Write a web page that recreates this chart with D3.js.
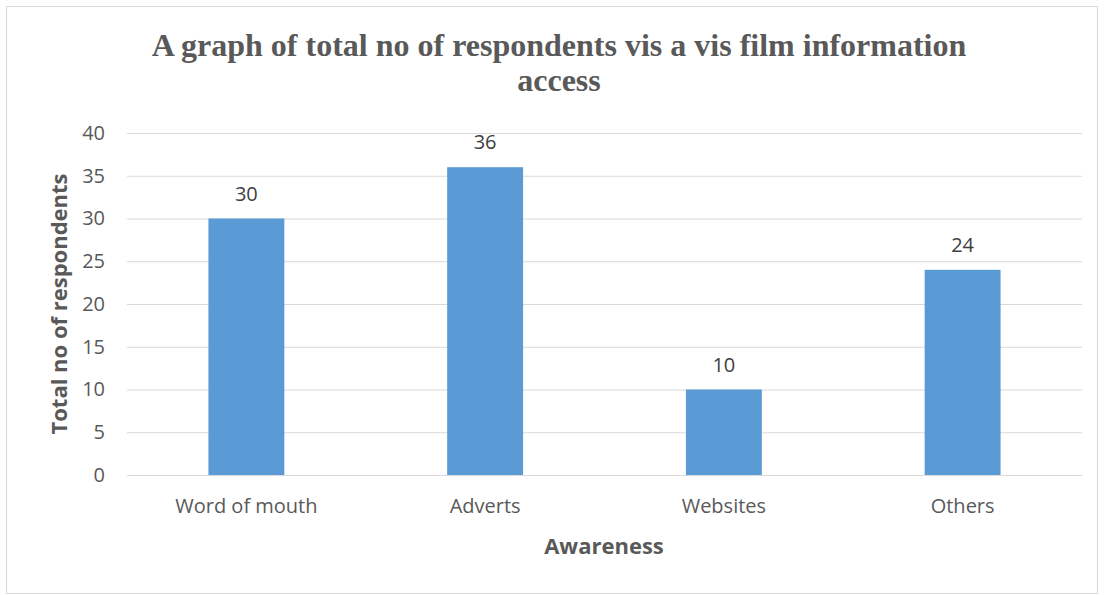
<!DOCTYPE html>
<html><head><meta charset="utf-8">
<script src="https://cdn.jsdelivr.net/npm/d3@7"></script>
<style>body{margin:0;background:#fff;} svg{display:block;}</style>
</head><body><svg id="c" width="1104" height="595"></svg>
<script>
const categories = ["Word of mouth", "Adverts", "Websites", "Others"];
const values = [30, 36, 10, 24];
const yTicks = [0, 5, 10, 15, 20, 25, 30, 35, 40];

const svg = d3.select("#c");
svg.append("rect").attr("x", 6.5).attr("y", 6.5).attr("width", 1091).attr("height", 587)
  .attr("fill", "#fff").attr("stroke", "#d9d9d9").attr("stroke-width", 1);

const m = {l: 127, r: 1082, t: 133, b: 475};
const x = d3.scaleBand().domain(categories).range([m.l, m.r]).paddingInner(0.682).paddingOuter(0.341);
const y = d3.scaleLinear().domain([0, 40]).range([m.b, m.t]);

const sans = "'Open Sans', 'Liberation Sans', sans-serif";
const fs = "20px";

// gridlines
const yAxis = d3.axisLeft(y).tickValues(yTicks).tickSize(-(m.r - m.l)).tickPadding(22);
const gy = svg.append("g").attr("transform", `translate(${m.l},0)`).call(yAxis);
gy.select(".domain").remove();
gy.selectAll(".tick line").attr("stroke", "#d9d9d9").attr("stroke-width", 1);
gy.selectAll(".tick text").attr("fill", "#595959").style("font-family", sans).style("font-size", fs);

// bars
svg.append("g").selectAll("rect").data(values).join("rect")
  .attr("x", (d, i) => x(categories[i]))
  .attr("y", d => y(d))
  .attr("width", x.bandwidth())
  .attr("height", d => y(0) - y(d))
  .attr("fill", "#5b9bd5");

// baseline
svg.append("line").attr("x1", m.l).attr("x2", m.r).attr("y1", y(0) + 0.5).attr("y2", y(0) + 0.5)
  .attr("stroke", "#d9d9d9").attr("stroke-width", 1);

// x axis labels
const xAxis = d3.axisBottom(x).tickSize(0).tickPadding(24);
const gx = svg.append("g").attr("transform", `translate(0,${m.b})`).call(xAxis);
gx.select(".domain").remove();
gx.selectAll(".tick text").attr("fill", "#595959").style("font-family", sans).style("font-size", fs);

// data labels
svg.append("g").selectAll("text").data(values).join("text")
  .attr("x", (d, i) => x(categories[i]) + x.bandwidth() / 2)
  .attr("y", d => y(d) - 18)
  .attr("text-anchor", "middle")
  .attr("fill", "#404040").style("font-family", sans).style("font-size", fs)
  .text(d => d);

// title
const title = svg.append("text").attr("text-anchor", "middle").attr("fill", "#595959")
  .style("font-family", "'Liberation Serif', 'Times New Roman', serif").style("font-weight", "bold").style("font-size", "32px");
title.append("tspan").attr("x", 559).attr("y", 56).text("A graph of total no of respondents vis a vis film information");
title.append("tspan").attr("x", 559).attr("y", 91).text("access");

// axis titles
svg.append("text").attr("x", 604).attr("y", 554).attr("text-anchor", "middle")
  .attr("fill", "#595959").style("font-family", sans).style("font-weight", "bold").style("font-size", "22px")
  .text("Awareness");
svg.append("text").attr("transform", `translate(67,${(m.t + m.b) / 2}) rotate(-90)`).attr("text-anchor", "middle")
  .attr("fill", "#595959").style("font-family", sans).style("font-weight", "bold").style("font-size", "22px")
  .text("Total no of respondents");
</script></body></html>
